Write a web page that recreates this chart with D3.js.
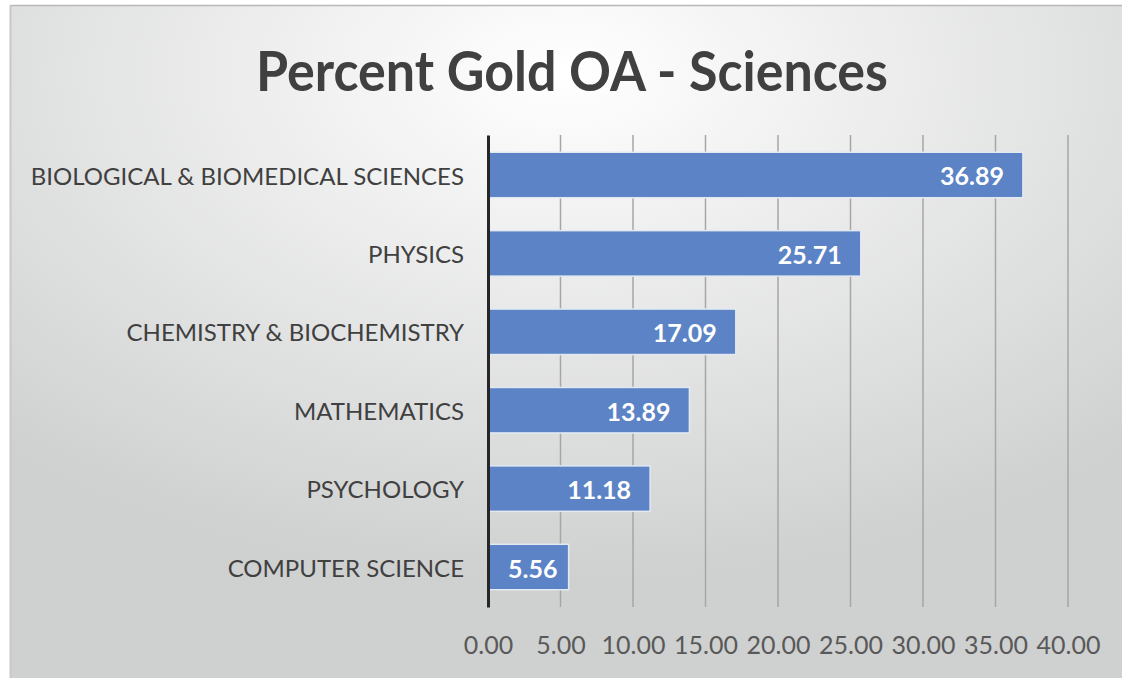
<!DOCTYPE html>
<html>
<head>
<meta charset="utf-8">
<script src="https://cdn.jsdelivr.net/npm/d3@7"></script>
<style>
  body { margin: 0; background: #fff; }
  svg { display: block; }
</style>
</head>
<body>
<div id="chart"></div>
<script>
// data
const categories = ["BIOLOGICAL & BIOMEDICAL SCIENCES", "PHYSICS", "CHEMISTRY & BIOCHEMISTRY",
  "MATHEMATICS", "PSYCHOLOGY", "COMPUTER SCIENCE"];
const values = [36.89, 25.71, 17.09, 13.89, 11.18, 5.56];
const ticks = [0, 5, 10, 15, 20, 25, 30, 35, 40];
const title = "Percent Gold OA - Sciences";

const width = 1122, height = 678;
const margin = {top: 135, left: 488, right: 54, bottom: 71};
const font = "Lato, 'Open Sans', sans-serif";

const svg = d3.select("#chart").append("svg")
  .attr("width", width)
  .attr("height", height);

// background gradient
const defs = svg.append("defs");
const grad = defs.append("radialGradient")
  .attr("id", "bg")
  .attr("cx", "50%").attr("cy", "10%").attr("r", "75%");
grad.append("stop").attr("offset", "0%").attr("stop-color", "#ffffff");
grad.append("stop").attr("offset", "100%").attr("stop-color", "#cfd0d0");

svg.append("rect")
  .attr("x", 10).attr("y", 6)
  .attr("width", width - 10).attr("height", height - 6)
  .attr("fill", "url(#bg)");
svg.append("line")
  .attr("x1", 10).attr("x2", width).attr("y1", 5.5).attr("y2", 5.5)
  .attr("stroke", "#b8b8b8").attr("stroke-width", 1.5);
svg.append("line")
  .attr("x1", 10.5).attr("x2", 10.5).attr("y1", 5).attr("y2", height)
  .attr("stroke", "#c8c8c8").attr("stroke-width", 2);

// title (slightly stretched vertically, the original face is taller/narrower)
svg.append("text")
  .attr("transform", "translate(572,91) scale(1,1.08)")
  .attr("text-anchor", "middle")
  .attr("font-family", font)
  .attr("font-weight", "bold")
  .attr("font-size", 52)
  .attr("fill", "#404040")
  .text(title);

const x = d3.scaleLinear()
  .domain([0, 40])
  .range([margin.left, width - margin.right]);

const y = d3.scaleBand()
  .domain(categories)
  .range([margin.top, height - margin.bottom])
  .paddingInner(0.42)
  .paddingOuter(0.22);

// gridlines
svg.append("g").selectAll("line")
  .data(ticks.slice(1))
  .join("line")
  .attr("x1", d => x(d)).attr("x2", d => x(d))
  .attr("y1", margin.top).attr("y2", height - margin.bottom)
  .attr("stroke", "#a6a6a6")
  .attr("stroke-width", 1.5);

// tick labels
const xAxis = svg.append("g")
  .attr("transform", `translate(0,${height - margin.bottom})`)
  .call(d3.axisBottom(x).tickValues(ticks).tickFormat(d3.format(".2f")).tickSize(0).tickPadding(29));
xAxis.select(".domain").remove();
xAxis.selectAll("text")
  .attr("font-family", font)
  .attr("font-size", 25)
  .attr("fill", "#595959");

// bars
svg.append("g").selectAll("rect")
  .data(values)
  .join("rect")
  .attr("x", x(0))
  .attr("y", (d, i) => y(categories[i]))
  .attr("width", d => x(d) - x(0))
  .attr("height", y.bandwidth())
  .attr("fill", "#5b83c5")
  .attr("stroke", "#e3e9f3")
  .attr("stroke-width", 1.5);

// value labels, inside end; short bars push the label out from the axis a bit
svg.append("g").selectAll("text")
  .data(values)
  .join("text")
  .attr("y", (d, i) => y(categories[i]) + y.bandwidth() / 2)
  .attr("dy", "0.42em")
  .attr("text-anchor", "end")
  .attr("font-family", font)
  .attr("font-weight", "bold")
  .attr("font-size", 25)
  .attr("fill", "#ffffff")
  .text(d => d.toFixed(2))
  .attr("x", function(d) {
    const w = this.getComputedTextLength();
    return Math.max(x(d) - 19, x(0) + 20 + w);
  });

// category axis
const yAxis = svg.append("g")
  .attr("transform", `translate(${x(0)},0)`)
  .call(d3.axisLeft(y).tickSize(0).tickPadding(24));
yAxis.select(".domain")
  .attr("stroke", "#262626")
  .attr("stroke-width", 3);
yAxis.selectAll("text")
  .attr("dy", "0.4em")
  .attr("font-family", font)
  .attr("font-size", 24)
  .attr("fill", "#404040");
</script>
</body>
</html>
